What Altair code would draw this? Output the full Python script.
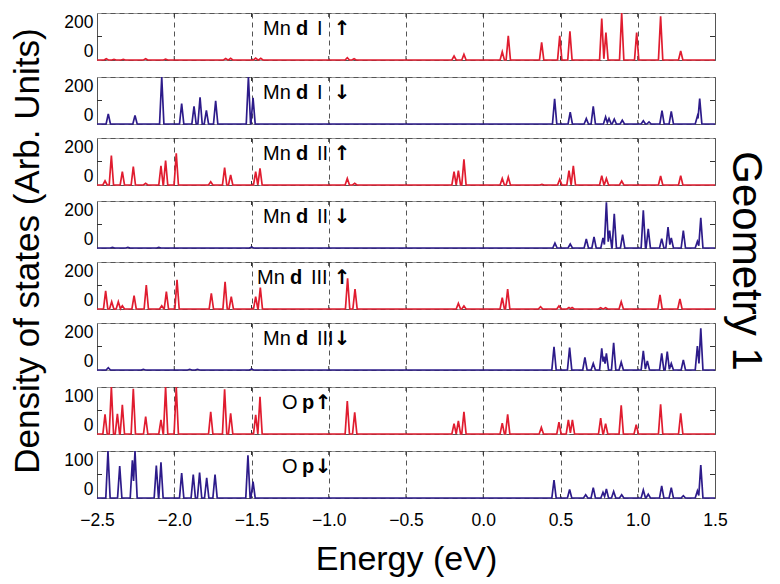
import altair as alt
import pandas as pd

# ---------------- data ----------------
X_MIN, X_MAX = -2.5, 1.5
X_TICKS = [-2.5, -2.0, -1.5, -1.0, -0.5, 0.0, 0.5, 1.0, 1.5]

PANEL_ATOM = ["Mn", "Mn", "Mn", "Mn", "Mn", "Mn", "O", "O"]
PANEL_ORBITAL = ["d", "d", "d", "d", "d", "d", "p", "p"]
PANEL_SITE = ["I", "I", "II", "II", "III", "III", "", ""]
PANEL_SPIN = ["↑", "↓", "↑", "↓", "↑", "↓", "↑", "↓"]
PANEL_YMAX = [200, 200, 200, 200, 200, 200, 100, 100]

# peak energies (eV) and heights (arb. units)
P1_E = [-2.44, -2.39, -2.33, -2.185, -2.056, -1.667, -1.635, -1.473, -1.44, -0.88, -0.836,
        -0.189, -0.125, 0.123, 0.162, 0.378, 0.495, 0.561, 0.767, 0.794, 0.896, 0.993, 1.148, 1.278]
P1_H = [5, 3, 3, 5, 4, 6, 7, 8, 7, 10, 5,
        17, 24, 35, 103, 75, 103, 122, 176, 117, 240, 117, 186, 38]

P2_E = [-2.427, -2.254, -2.081, -1.952, -1.872, -1.833, -1.792, -1.732, -1.52, -1.49,
        0.462, 0.563, 0.667, 0.712, 0.792, 0.814, 0.848, 0.9, 1.036, 1.073, 1.157, 1.217, 1.386, 1.401]
P2_H = [43, 36, 230, 87, 75, 114, 58, 99, 230, 111,
        107, 50, 23, 75, 30, 23, 21, 16, 14, 9, 57, 54, 33, 108]

P3_E = [-2.448, -2.407, -2.336, -2.265, -2.185, -2.086, -2.056, -1.987, -1.764, -1.674, -1.635,
        -1.473, -1.445, -0.88, -0.832, -0.189, -0.161, -0.125, 0.123, 0.162, 0.38, 0.495, 0.555,
        0.583, 0.767, 0.797, 0.896, 1.148, 1.278]
P3_H = [18, 125, 57, 78, 7, 82, 104, 135, 14, 74, 43,
        57, 71, 28, 7, 57, 61, 109, 28, 33, 3, 24, 61,
        82, 40, 28, 17, 38, 40]

P4_E = [-2.4, -2.3, -2.1, -1.5, 0.464, 0.563, 0.667, 0.717, 0.775, 0.797, 0.818, 0.848, 0.902,
        1.036, 1.068, 1.155, 1.196, 1.217, 1.295, 1.386, 1.408]
P4_H = [3, 3, 3, 4, 21, 17, 38, 47, 43, 195, 74, 145, 57,
        160, 81, 40, 89, 43, 74, 28, 128]

P5_E = [-2.444, -2.405, -2.362, -2.336, -2.26, -2.181, -2.081, -2.051, -1.982, -1.76, -1.671,
        -1.631, -1.473, -1.443, -0.878, -0.83, -0.161, -0.125, 0.123, 0.158, 0.371, 0.49, 0.555,
        0.575, 0.76, 0.792, 0.893, 1.144, 1.273]
P5_H = [77, 31, 31, 14, 57, 102, 14, 74, 124, 67, 116,
        53, 53, 91, 131, 85, 24, 13, 48, 85, 10, 13, 6,
        6, 5, 5, 31, 60, 43]

P6_E = [-2.427, -2.2, -1.9, -1.85, -1.5, 0.458, 0.559, 0.658, 0.712, 0.767, 0.781, 0.797, 0.844,
        0.893, 1.036, 1.062, 1.155, 1.191, 1.217, 1.295, 1.386, 1.408]
P6_H = [10, 3, 3, 3, 4, 99, 95, 54, 28, 92, 57, 71, 116,
        33, 81, 38, 71, 78, 28, 43, 102, 177]

P7_E = [-2.448, -2.407, -2.368, -2.336, -2.265, -2.185, -2.086, -2.056, -1.987, -1.764, -1.674,
        -1.635, -1.473, -1.445, -0.88, -0.832, -0.189, -0.161, -0.125, 0.123, 0.158, 0.376, 0.49,
        0.551, 0.577, 0.76, 0.792, 0.893, 0.99, 1.148, 1.278]
P7_H = [42, 110, 43, 62, 96, 37, 30, 115, 115, 47, 95,
        44, 41, 79, 70, 46, 22, 28, 47, 23, 42, 14, 25,
        30, 30, 34, 22, 61, 20, 63, 44]

P8_E = [-2.429, -2.353, -2.271, -2.254, -2.116, -2.086, -1.952, -1.877, -1.836, -1.79, -1.736,
        -1.523, -1.49, 0.458, 0.559, 0.663, 0.712, 0.775, 0.797, 0.844, 0.896, 1.036, 1.068,
        1.155, 1.217, 1.295, 1.386, 1.408]
P8_H = [110, 68, 80, 110, 69, 76, 53, 50, 54, 43, 50,
        91, 35, 38, 18, 7, 22, 12, 19, 14, 7, 17, 8,
        26, 22, 5, 15, 70]

PEAKS_E = [P1_E, P2_E, P3_E, P4_E, P5_E, P6_E, P7_E, P8_E]
PEAKS_H = [P1_H, P2_H, P3_H, P4_H, P5_H, P6_H, P7_H, P8_H]

# ---------------- style ----------------
RED = "#e01c2f"
BLUE = "#2d1b8a"
COLORS = [RED, BLUE, RED, BLUE, RED, BLUE, RED, BLUE]
FONT = "Liberation Sans"
ARROW_FONT = "DejaVu Sans"
HALF_WIDTH = 0.014  # peak half-width at the base (drawing style)
PANEL_W = 618
PANEL_H = 47
TICK_COLOR = "#333333"
TICK_FONT_SIZE = 17.5


def trace(E, H, w=HALF_WIDTH):
    """Triangle-shaped peaks joined on a zero baseline."""
    pts = [(X_MIN, 0.0)]
    n = len(E)
    joined_left = False
    for i in range(n):
        e, h = E[i], H[i]
        if not joined_left:
            pts.append((e - w, 0.0))
        pts.append((e, h))
        joined_left = False
        if i < n - 1 and e + w > E[i + 1] - w:
            e2, h2 = E[i + 1], H[i + 1]
            xv = (w * (h - h2) + h * e + h2 * e2) / (h + h2)
            xv = min(max(xv, e), e2)
            yv = max(0.0, h * (1 - (xv - e) / w))
            pts.append((xv, yv))
            joined_left = True
        else:
            pts.append((e + w, 0.0))
    pts.append((X_MAX, 0.0))
    df = pd.DataFrame(pts, columns=["energy", "dos"])
    df["i"] = range(len(df))
    return df


def one_row():
    return pd.DataFrame({"k": [0]})


XSCALE = alt.Scale(domain=[X_MIN, X_MAX], nice=False, zero=False)


def panel(k):
    ymax = PANEL_YMAX[k]
    bottom = k == len(PANEL_YMAX) - 1
    df = trace(PEAKS_E[k], PEAKS_H[k])
    yscale = alt.Scale(domain=[0, ymax], nice=False, clamp=True)

    if bottom:
        xaxis = alt.Axis(values=X_TICKS, format=".1f", grid=True, gridDash=[5, 4],
                         gridColor="#555555", gridWidth=1, ticks=False, domain=False,
                         labels=True, labelFlush=False, labelFontSize=TICK_FONT_SIZE,
                         labelPadding=13, labelColor="#000000", labelFont=FONT,
                         title="Energy (eV)", titleFontSize=34, titleFontWeight="normal",
                         titleFont=FONT, titlePadding=14, titleColor="#000000")
    else:
        xaxis = alt.Axis(values=X_TICKS, grid=True, gridDash=[5, 4], gridColor="#555555",
                         gridWidth=1, ticks=False, domain=False, labels=False, title=None)

    yaxis = alt.Axis(values=[0, ymax // 2, ymax],
                     labelExpr="datum.value == %d ? '' : datum.label" % (ymax // 2),
                     grid=True, gridDash=[4, 5], gridColor="#999999", gridWidth=1,
                     ticks=False, domain=False, labelFlush=True, labelFontSize=TICK_FONT_SIZE,
                     labelPadding=4, labelFont=FONT, labelColor="#000000", title=None)

    line = alt.Chart(df).mark_line(color=COLORS[k], strokeWidth=1.7).encode(
        x=alt.X("energy:Q", scale=XSCALE, axis=xaxis),
        y=alt.Y("dos:Q", scale=yscale, axis=yaxis),
        order=alt.Order("i:Q"),
    )

    # short inward ticks on the frame
    xt = pd.DataFrame({"t": X_TICKS[1:-1]})
    tick_top = alt.Chart(xt).mark_rule(color=TICK_COLOR, strokeWidth=1).encode(
        x=alt.X("t:Q", scale=XSCALE), y=alt.value(0), y2=alt.value(4))
    tick_bot = alt.Chart(xt).mark_rule(color=TICK_COLOR, strokeWidth=1).encode(
        x=alt.X("t:Q", scale=XSCALE), y=alt.value(PANEL_H - 4), y2=alt.value(PANEL_H))
    mid = pd.DataFrame({"m": [ymax // 2]})
    tick_l = alt.Chart(mid).mark_rule(color=TICK_COLOR, strokeWidth=1).encode(
        y=alt.Y("m:Q", scale=yscale), x=alt.value(0), x2=alt.value(5))
    tick_r = alt.Chart(mid).mark_rule(color=TICK_COLOR, strokeWidth=1).encode(
        y=alt.Y("m:Q", scale=yscale), x=alt.value(PANEL_W - 5), x2=alt.value(PANEL_W))

    layers = [tick_top, tick_bot, tick_l, tick_r, line]

    ly = 16
    if PANEL_ATOM[k] == "Mn":
        x0 = 160 if k == 4 else 166
        parts = [(PANEL_ATOM[k], FONT, "normal", x0, "left"),
                 (PANEL_ORBITAL[k], FONT, "bold", x0 + 33, "left"),
                 (PANEL_SITE[k], FONT, "normal", x0 + 54, "left"),
                 (PANEL_SPIN[k], ARROW_FONT, "bold", 245, "center")]
    else:
        parts = [(PANEL_ATOM[k], FONT, "normal", 185, "left"),
                 (PANEL_ORBITAL[k], FONT, "bold", 205, "left"),
                 (PANEL_SPIN[k], ARROW_FONT, "bold", 226, "center")]
    for txt, fnt, weight, px, al in parts:
        if not txt:
            continue
        layers.append(
            alt.Chart(one_row()).mark_text(text=txt, font=fnt, fontSize=20, fontWeight=weight,
                                           align=al, baseline="middle", color="#000000")
            .encode(x=alt.value(px), y=alt.value(ly))
        )
    return alt.layer(*layers).properties(width=PANEL_W, height=PANEL_H)


panels = [panel(k) for k in range(len(PANEL_YMAX))]

stack = alt.vconcat(*panels, spacing=9).properties(
    title=alt.TitleParams("Density of states (Arb. Units)", orient="left", anchor="middle",
                          fontSize=35, fontWeight="normal", font=FONT, color="#000000",
                          offset=17, dx=42)
)

chart = alt.hconcat(stack).properties(
    title=alt.TitleParams("Geometry 1", orient="right", anchor="middle", fontSize=42,
                          fontWeight="normal", font=FONT, color="#000000", offset=-4, dx=-32),
    padding={"left": 3, "top": 1, "right": 0, "bottom": 0},
).configure_view(stroke="#555555", strokeWidth=1).configure_concat(spacing=0)

chart.save("out.html", embed_options={"renderer": "svg", "actions": False})
